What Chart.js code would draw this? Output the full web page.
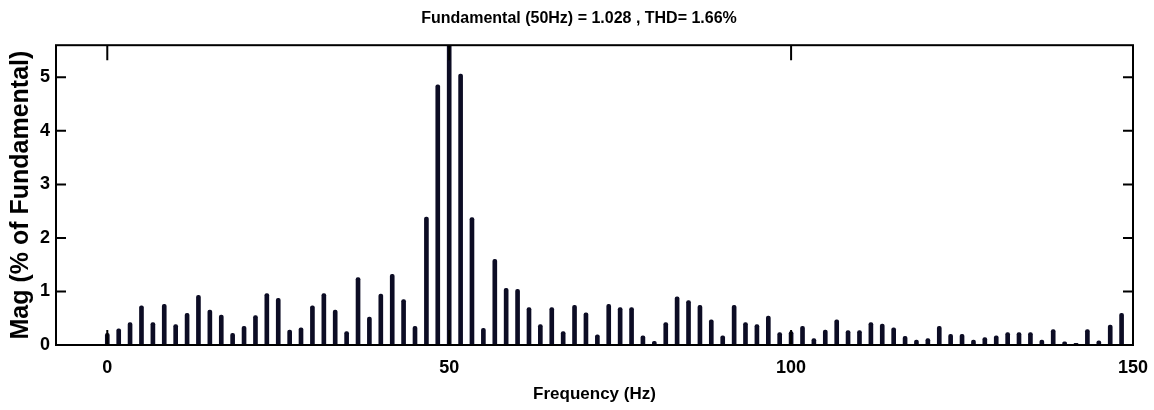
<!DOCTYPE html>
<html>
<head>
<meta charset="utf-8">
<title>FFT spectrum</title>
<script src="https://cdn.jsdelivr.net/npm/chart.js@4.4.1/dist/chart.umd.min.js"></script>
<style>
  body { margin: 0; background: #fff; }
</style>
</head>
<body>
<canvas id="fft" width="1154" height="410"></canvas>
<script>
// FFT bins, 50/30 Hz apart
const freqHz = [0, 1.67, 3.33, 5, 6.67, 8.33, 10, 11.67, 13.33, 15, 16.67, 18.33, 20, 21.67, 23.33, 25, 26.67, 28.33, 30, 31.67,
  33.33, 35, 36.67, 38.33, 40, 41.67, 43.33, 45, 46.67, 48.33, 50, 51.67, 53.33, 55, 56.67, 58.33, 60, 61.67, 63.33, 65,
  66.67, 68.33, 70, 71.67, 73.33, 75, 76.67, 78.33, 80, 81.67, 83.33, 85, 86.67, 88.33, 90, 91.67, 93.33, 95, 96.67, 98.33,
  100, 101.67, 103.33, 105, 106.67, 108.33, 110, 111.67, 113.33, 115, 116.67, 118.33, 120, 121.67, 123.33, 125, 126.67, 128.33, 130, 131.67,
  133.33, 135, 136.67, 138.33, 140, 141.67, 143.33, 145, 146.67, 148.33];

// magnitude in % of fundamental (fundamental itself = 100, clipped by the axis)
const magPct = [0.22, 0.30, 0.42, 0.73, 0.42, 0.76, 0.38, 0.59, 0.93, 0.65, 0.56, 0.22, 0.35, 0.55, 0.96, 0.87, 0.28, 0.32, 0.73, 0.96,
  0.65, 0.25, 1.26, 0.52, 0.95, 1.32, 0.85, 0.35, 2.39, 4.86, 100, 5.06, 2.38, 0.31, 1.60, 1.06, 1.04, 0.70, 0.38, 0.70,
  0.25, 0.74, 0.60, 0.19, 0.76, 0.70, 0.70, 0.17, 0.07, 0.42, 0.90, 0.83, 0.74, 0.47, 0.17, 0.74, 0.42, 0.38, 0.54, 0.23,
  0.25, 0.35, 0.12, 0.28, 0.47, 0.27, 0.27, 0.42, 0.39, 0.32, 0.16, 0.09, 0.12, 0.35, 0.20, 0.20, 0.09, 0.14, 0.17, 0.23,
  0.23, 0.23, 0.09, 0.29, 0.06, 0.03, 0.29, 0.08, 0.37, 0.59];

const xTicks = [0, 50, 100, 150];
const yTicks = [0, 1, 2, 3, 4, 5];

const titleText = 'Fundamental (50Hz) = 1.028 , THD= 1.66%';
const xTitle = 'Frequency (Hz)';
const yTitle = 'Mag (% of Fundamental)';

Chart.defaults.font.family = "'Liberation Sans', Arial, sans-serif";
Chart.defaults.color = '#000';

// matlab style box with inward ticks
const boxPlugin = {
  id: 'box',
  afterDraw(chart) {
    const ctx = chart.ctx;
    const a = chart.chartArea;
    const sx = chart.scales.x, sy = chart.scales.y;
    ctx.save();
    ctx.strokeStyle = '#000';
    ctx.lineWidth = 2;
    ctx.strokeRect(a.left, a.top, a.right - a.left, a.bottom - a.top);
    ctx.beginPath();
    xTicks.forEach(function (v) {
      const px = sx.getPixelForValue(v);
      ctx.moveTo(px, a.top); ctx.lineTo(px, a.top + 15);
      ctx.moveTo(px, a.bottom); ctx.lineTo(px, a.bottom - 15);
    });
    yTicks.forEach(function (v) {
      const py = sy.getPixelForValue(v);
      ctx.moveTo(a.left, py); ctx.lineTo(a.left + 10, py);
      ctx.moveTo(a.right, py); ctx.lineTo(a.right - 10, py);
    });
    ctx.stroke();
    ctx.restore();
  }
};

new Chart(document.getElementById('fft'), {
  type: 'bar',
  data: {
    datasets: [{
      data: freqHz.map(function (f, i) { return { x: f, y: magPct[i] }; }),
      backgroundColor: '#0c0c24',
      barThickness: 4,
      borderRadius: { topLeft: 2, topRight: 2 },
      borderSkipped: 'start'
    }]
  },
  options: {
    responsive: false,
    devicePixelRatio: 1,
    animation: false,
    // left padding keeps the title centred like the original
    layout: { padding: { left: 25, right: 21, top: 0, bottom: 0 } },
    plugins: {
      legend: { display: false },
      tooltip: { enabled: false },
      title: {
        display: true,
        text: titleText,
        font: { size: 16, weight: 'bold' },
        padding: { top: 9, bottom: 17 }
      }
    },
    scales: {
      x: {
        type: 'linear',
        offset: false,
        min: -7.5,
        max: 150,
        grid: { display: false, drawTicks: false, offset: false },
        border: { display: false },
        afterBuildTicks: function (s) { s.ticks = xTicks.map(function (v) { return { value: v }; }); },
        afterFit: function (s) { s.height = 65; s.paddingLeft = 0; s.paddingRight = 0; },
        ticks: { font: { size: 18, weight: 'bold' }, padding: 12, maxRotation: 0 },
        title: { display: true, text: xTitle, font: { size: 17, weight: 'bold' }, padding: { top: 0, bottom: 5.5 } }
      },
      y: {
        min: 0,
        max: 5.6,
        grid: { display: false, drawTicks: false },
        border: { display: false },
        afterBuildTicks: function (s) { s.ticks = yTicks.map(function (v) { return { value: v }; }); },
        afterFit: function (s) { s.width = 31; },
        ticks: { font: { size: 18, weight: 'bold' }, padding: 6 },
        title: { display: true, text: yTitle, font: { size: 25, weight: 'bold' }, padding: { top: -19, bottom: 0 } }
      }
    }
  },
  plugins: [boxPlugin]
});
</script>
</body>
</html>
